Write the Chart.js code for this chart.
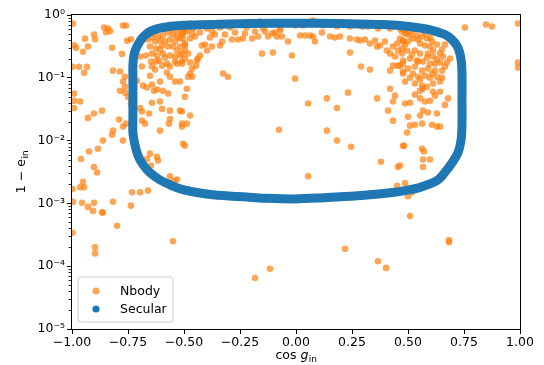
<!DOCTYPE html>
<html><head><meta charset="utf-8">
<script src="https://cdn.jsdelivr.net/npm/chart.js@4.4.1/dist/chart.umd.min.js"></script>
<style>html,body{margin:0;padding:0;background:#fff}#wrap{width:544px;height:365px}</style>
</head><body><div id="wrap"><canvas id="c" width="544" height="365"></canvas></div>
<script>
const seriesNames = ['Nbody', 'Secular'];
const xTicks = [-1, -0.75, -0.5, -0.25, 0, 0.25, 0.5, 0.75, 1];
const yTicks = [1e-5, 1e-4, 1e-3, 1e-2, 1e-1, 1];
const yTickLabels = ['10\u207B\u2075', '10\u207B\u2074', '10\u207B\u00B3', '10\u207B\u00B2', '10\u207B\u00B9', '10\u2070'];
const xTitle = ['cos ', 'g', 'in'];
const yTitle = ['1 \u2212 e', 'in'];

const nbodyX = [
 -0.996,-0.991,-0.982,-0.998,-0.991,-0.991,-0.991,-0.964,-0.942,-0.929,
 -0.951,-0.969,-0.946,-0.933,-0.902,-0.897,-0.857,-0.839,-0.830,-0.848,
 -0.821,-0.817,-0.777,-0.772,-0.759,-0.754,-0.737,-0.786,-0.763,-0.772,
 -0.763,-0.786,-0.763,-0.750,-0.737,-0.866,-0.929,-0.902,-0.790,-0.772,
 -0.759,-0.817,-0.821,-0.862,-0.884,-0.924,-0.960,-0.902,-0.772,-0.888,
 -0.696,-0.670,-0.688,-0.652,-0.643,-0.647,-0.625,-0.612,-0.598,-0.576,
 -0.563,-0.531,-0.509,-0.710,-0.683,-0.665,-0.643,-0.634,-0.621,-0.594,
 -0.571,-0.607,-0.643,-0.696,-0.688,-0.656,-0.598,-0.563,-0.518,-0.563,
 -0.688,-0.674,-0.607,-0.567,-0.509,-0.652,-0.665,-0.621,-0.616,-0.688,
 -0.647,-0.563,-0.540,-0.518,-0.625,-0.598,-0.571,-0.531,-0.496,-0.638,
 -0.616,-0.594,-0.571,-0.549,-0.527,-0.504,-0.629,-0.607,-0.585,-0.563,
 -0.540,-0.518,-0.643,-0.621,-0.594,-0.563,-0.540,-0.518,-0.652,-0.549,
 -0.473,-0.442,-0.326,-0.161,-0.040,-0.504,-0.460,-0.397,-0.339,-0.295,
 -0.219,-0.147,-0.071,-0.509,-0.487,-0.464,-0.375,-0.071,-0.504,-0.496,
 -0.473,-0.420,-0.406,-0.375,-0.397,-0.339,-0.330,-0.286,-0.259,-0.237,
 -0.196,-0.170,-0.125,-0.107,-0.085,-0.063,-0.036,-0.518,-0.496,-0.509,
 -0.482,-0.429,-0.438,-0.442,-0.496,-0.509,-0.152,-0.103,-0.018,-0.464,
 -0.473,-0.482,-0.464,-0.326,-0.304,-0.487,-0.496,-0.509,-0.473,-0.487,
 -0.509,-0.504,-0.496,-0.076,-0.004,
 0.076,-0.004,0.031,0.121,0.183,0.241,0.295,0.321,0.366,0.420,
 0.464,0.487,0.018,0.040,0.063,0.076,0.085,0.116,0.152,0.174,
 0.196,0.241,0.272,0.286,0.308,0.330,0.353,0.362,0.375,0.397,
 0.406,0.420,0.433,0.451,0.464,0.478,0.455,0.473,0.442,0.487,
 0.241,0.290,0.330,0.420,0.433,0.455,0.478,0.478,0.487,0.054,
 0.138,0.183,0.232,0.362,0.420,0.442,0.433,0.411,0.433,0.138,
 0.183,0.246,0.478,0.379,0.455,
 0.754,0.848,0.875,0.991,0.991,0.991,0.473,0.496,0.518,0.540,
 0.563,0.585,0.607,0.478,0.500,0.522,0.554,0.576,0.598,0.612,
 0.473,0.496,0.531,0.554,0.589,0.612,0.643,0.656,0.688,0.478,
 0.509,0.540,0.567,0.598,0.621,0.643,0.464,0.500,0.531,0.563,
 0.589,0.621,0.652,0.665,0.478,0.522,0.545,0.576,0.607,0.629,
 0.531,0.563,0.585,0.612,0.643,0.567,0.554,0.612,0.621,0.679,
 0.554,0.576,0.598,0.487,0.509,0.567,0.589,0.629,0.554,0.500,
 0.531,0.563,0.607,0.629,0.643,0.509,0.496,0.482,0.563,0.571,
 0.567,0.598,0.567,0.464,
 -0.951,-0.946,-0.964,-0.998,-0.996,-0.955,-0.929,-0.902,-0.906,-0.862,
 -0.866,-0.817,-0.799,-0.998,-0.897,-0.897,-0.737,-0.732,-0.696,-0.661,
 -0.563,-0.545,-0.531,-0.549,-0.116,-0.183,0.054,0.219,0.366,0.402,
 0.451,0.487,0.500,0.509,0.518,0.683,0.683,
 -0.661,-0.643,-0.621,-0.585,-0.554,-0.531,-0.496,-0.451,-0.429,-0.384,
 -0.362,-0.317,-0.272,-0.228,-0.183,-0.138,-0.094,-0.607,-0.585,-0.540,
 -0.473,-0.446,-0.629,-0.576,-0.607,
 0.487,0.509,0.545,0.576,0.598,0.629,0.652,0.665,0.518,0.545,
 0.585,0.629,0.674,0.509,0.554,0.598,0.652,0.531,0.643,0.665
];
const nbodyY = [
 0.73,0.33,0.30,0.15,0.056,0.043,0.033,0.042,0.42,0.315,
 0.26,0.15,0.12,0.15,0.49,0.41,0.63,0.61,0.55,0.53,
 0.30,0.13,0.24,0.68,0.68,0.39,0.41,0.126,0.104,0.087,
 0.072,0.062,0.058,0.050,0.039,0.030,0.023,0.027,0.0216,0.0167,
 0.0186,0.0144,0.0124,0.0100,0.0074,0.0067,0.0051,0.0038,0.0100,0.0031,
 0.218,0.226,0.151,0.108,0.151,0.181,0.181,0.188,0.156,0.168,
 0.151,0.168,0.181,0.090,0.075,0.070,0.078,0.062,0.065,0.062,
 0.056,0.042,0.040,0.033,0.029,0.027,0.032,0.030,0.030,0.022,
 0.0208,0.0186,0.0144,0.0186,0.0186,0.0062,0.0051,0.0055,0.0048,0.0044,
 0.0040,0.104,0.087,0.087,0.292,0.326,0.315,0.272,0.326,0.507,
 0.454,0.471,0.526,0.489,0.546,0.507,0.378,0.392,0.378,0.407,
 0.378,0.422,0.243,0.226,0.243,0.226,0.218,0.226,0.315,0.315,
 0.732,0.732,0.732,0.787,0.759,0.609,0.609,0.609,0.632,0.632,
 0.632,0.609,0.609,0.507,0.546,0.507,0.546,0.566,0.422,0.351,
 0.422,0.326,0.339,0.315,0.272,0.326,0.378,0.407,0.407,0.422,
 0.422,0.454,0.454,0.507,0.454,0.454,0.378,0.315,0.272,0.243,
 0.243,0.226,0.202,0.188,0.202,0.168,0.243,0.252,0.226,0.140,
 0.117,0.104,0.104,0.117,0.104,0.067,0.050,0.029,0.025,0.0186,
 0.0167,0.0089,0.0083,0.0149,0.097,
 0.817,0.680,0.680,0.680,0.656,0.656,0.656,0.656,0.609,0.609,
 0.609,0.566,0.471,0.471,0.471,0.454,0.378,0.526,0.454,0.438,
 0.454,0.422,0.407,0.392,0.407,0.351,0.392,0.315,0.326,0.378,
 0.272,0.243,0.315,0.351,0.422,0.378,0.272,0.243,0.218,0.507,
 0.252,0.151,0.135,0.130,0.156,0.156,0.168,0.126,0.087,0.039,
 0.047,0.033,0.058,0.047,0.067,0.052,0.042,0.030,0.0208,0.0144,
 0.0100,0.0080,0.0083,0.0046,0.0038,
 0.632,0.705,0.656,0.732,0.175,0.146,0.546,0.507,0.546,0.471,
 0.454,0.422,0.378,0.392,0.378,0.422,0.351,0.326,0.315,0.272,
 0.292,0.272,0.272,0.243,0.243,0.218,0.243,0.218,0.202,0.188,
 0.202,0.188,0.181,0.168,0.168,0.175,0.156,0.140,0.151,0.130,
 0.140,0.130,0.130,0.151,0.117,0.117,0.104,0.108,0.117,0.104,
 0.081,0.075,0.072,0.081,0.087,0.067,0.062,0.060,0.052,0.047,
 0.047,0.042,0.043,0.039,0.040,0.030,0.028,0.027,0.025,0.024,
 0.0179,0.0186,0.0179,0.0167,0.0167,0.0173,0.0134,0.0083,0.0074,0.0067,
 0.0050,0.0050,0.0038,0.0040,
 0.0022,0.0018,0.0018,0.0017,0.00106,0.00102,0.00088,0.00102,0.00076,0.00071,
 0.00072,0.00106,0.00044,0.00034,0.00020,0.00016,0.00092,0.0015,0.0015,0.0016,
 0.0027,0.0023,0.0024,0.00025,0.000091,0.000065,0.0027,0.00019,0.00012,0.000094,
 0.0019,0.0021,0.0013,0.00063,0.0015,0.00026,0.00024,
 0.407,0.438,0.566,0.587,0.587,0.454,0.587,0.454,0.526,0.438,
 0.489,0.489,0.526,0.507,0.546,0.546,0.526,0.282,0.210,0.181,
 0.175,0.156,0.135,0.121,0.087,
 0.339,0.471,0.407,0.526,0.438,0.339,0.282,0.339,0.235,0.181,
 0.210,0.195,0.175,0.100,0.094,0.100,0.100,0.054,0.060,0.037
];

const secularX = [
 -0.728,-0.728,-0.728,-0.723,-0.710,-0.688,-0.652,-0.594,-0.518,-0.384,
 -0.205,0.000,0.196,0.375,0.464,0.554,0.612,0.665,0.696,0.723,
 0.737,0.741,0.741,0.741,0.737,0.723,0.696,0.661,0.629,0.554,
 0.487,0.420,0.272,0.121,-0.004,-0.138,-0.219,-0.371,-0.473,-0.518,
 -0.563,-0.607,-0.652,-0.683,-0.705,-0.719,-0.728,-0.728,-0.728
];
const secularY = [
 0.045,0.094,0.162,0.235,0.315,0.422,0.546,0.632,0.680,0.705,
 0.732,0.740,0.732,0.705,0.680,0.620,0.566,0.489,0.407,0.303,
 0.195,0.112,0.045,0.0179,0.0103,0.0064,0.0044,0.0030,0.0023,0.0018,
 0.0016,0.00148,0.00132,0.00123,0.00118,0.00121,0.00126,0.00137,0.00156,0.00171,
 0.00198,0.00236,0.00308,0.00413,0.00574,0.0086,0.0134,0.0259,0.045
];

const FONT = 'DejaVu Sans';
const fmtX = v => (v < 0 ? '\u2212' : '') + Math.abs(v).toFixed(2);

const framePlugin = {
  id: 'frame',
  afterDatasetsDraw(chart) {
    const ctx = chart.ctx, a = chart.chartArea, ys = chart.scales.y;
    ctx.save();
    ctx.strokeStyle = '#000';
    ctx.lineWidth = 1;
    const l = Math.round(a.left) - 0.5, r = Math.round(a.right) + 0.5;
    const t = Math.round(a.top) - 0.5, b = Math.round(a.bottom) + 0.5;
    ctx.strokeRect(l, t, r - l, b - t);
    ctx.lineWidth = 0.8;
    for (let e = -5; e < 0; e++) {
      for (let k = 2; k <= 9; k++) {
        const py = Math.round(ys.getPixelForValue(k * Math.pow(10, e))) + 0.5;
        ctx.beginPath();
        ctx.moveTo(l, py);
        ctx.lineTo(l - 3, py);
        ctx.stroke();
      }
    }
    ctx.restore();
  },
  afterDraw(chart) {
    const ctx = chart.ctx, a = chart.chartArea;
    ctx.save();
    const lx = 78, ly = 277, lw = 95, lh = 45, rr = 3;
    ctx.beginPath();
    ctx.moveTo(lx + rr, ly);
    ctx.arcTo(lx + lw, ly, lx + lw, ly + lh, rr);
    ctx.arcTo(lx + lw, ly + lh, lx, ly + lh, rr);
    ctx.arcTo(lx, ly + lh, lx, ly, rr);
    ctx.arcTo(lx, ly, lx + lw, ly, rr);
    ctx.closePath();
    ctx.fillStyle = 'rgba(255,255,255,0.8)';
    ctx.fill();
    ctx.strokeStyle = '#cccccc';
    ctx.lineWidth = 1;
    ctx.stroke();
    const ds = chart.data.datasets;
    const rows = [291, 309];
    ds.forEach((d, i) => {
      ctx.beginPath();
      ctx.arc(96, rows[i], 3.6, 0, Math.PI * 2);
      ctx.fillStyle = d.legendColor;
      ctx.fill();
      ctx.fillStyle = '#000';
      ctx.font = '12.5px "' + FONT + '"';
      ctx.textBaseline = 'middle';
      ctx.textAlign = 'left';
      ctx.fillText(d.label, 120, rows[i] + 1);
    });
    const big = '12.5px "' + FONT + '"', it = 'italic 12.5px "' + FONT + '"', sub = '9px "' + FONT + '"';
    ctx.textBaseline = 'alphabetic';
    ctx.font = big; const w1 = ctx.measureText(xTitle[0]).width;
    ctx.font = it; const w2 = ctx.measureText(xTitle[1]).width;
    ctx.font = sub; const w3 = ctx.measureText(xTitle[2]).width;
    const cx = (a.left + a.right) / 2;
    const x0 = cx - (w1 + w2 + w3) / 2;
    const by = 359;
    ctx.font = big; ctx.fillText(xTitle[0], x0, by);
    ctx.font = it; ctx.fillText(xTitle[1], x0 + w1, by);
    ctx.font = sub; ctx.fillText(xTitle[2], x0 + w1 + w2 + 0.5, by + 3);
    ctx.translate(25, (a.top + a.bottom) / 2);
    ctx.rotate(-Math.PI / 2);
    ctx.font = big; const v1 = ctx.measureText(yTitle[0]).width;
    ctx.font = sub; const v2 = ctx.measureText(yTitle[1]).width;
    const s0 = -(v1 + v2) / 2;
    ctx.font = big; ctx.fillText(yTitle[0], s0, 0);
    ctx.font = sub; ctx.fillText(yTitle[1], s0 + v1 + 0.5, 3);
    ctx.restore();
  }
};

new Chart(document.getElementById('c'), {
  type: 'scatter',
  data: {
    datasets: [
      {
        label: seriesNames[0],
        data: nbodyX.map((x, i) => ({ x: x, y: nbodyY[i] })),
        backgroundColor: 'rgba(255,127,14,0.7)',
        legendColor: 'rgba(255,127,14,0.7)',
        borderWidth: 0,
        pointRadius: 3.3,
        pointHoverRadius: 3.3,
        order: 1,
        clip: 0
      },
      {
        label: seriesNames[1],
        data: secularX.map((x, i) => ({ x: x, y: secularY[i] })),
        showLine: true,
        borderColor: '#1f77b4',
        backgroundColor: '#1f77b4',
        legendColor: '#1f77b4',
        borderWidth: 9,
        pointRadius: 0,
        pointHoverRadius: 0,
        tension: 0.35,
        borderJoinStyle: 'round',
        borderCapStyle: 'round',
        order: 0,
        clip: 0
      }
    ]
  },
  options: {
    responsive: false,
    animation: false,
    devicePixelRatio: 1,
    events: [],
    layout: { padding: { top: 15, right: 24, left: 0, bottom: 0 } },
    plugins: { legend: { display: false }, tooltip: { enabled: false } },
    scales: {
      x: {
        type: 'linear', min: -1, max: 1,
        afterBuildTicks: s => { s.ticks = xTicks.map(v => ({ value: v })); },
        afterFit: s => { s.height = 36; },
        ticks: { callback: v => fmtX(v), color: '#000', font: { family: FONT, size: 12.5 }, padding: 1, maxRotation: 0, autoSkip: false },
        grid: { display: true, drawOnChartArea: false, drawTicks: true, tickLength: 5, color: '#000', lineWidth: 1 },
        border: { display: false }
      },
      y: {
        type: 'logarithmic', min: 1e-5, max: 1,
        afterBuildTicks: s => { s.ticks = yTicks.map(v => ({ value: v })); },
        afterFit: s => { s.width = 72; },
        ticks: { callback: (v, i) => yTickLabels[i], color: '#000', font: { family: FONT, size: 12.5 }, padding: 2, autoSkip: false },
        grid: { display: true, drawOnChartArea: false, drawTicks: true, tickLength: 5, color: '#000', lineWidth: 1 },
        border: { display: false }
      }
    }
  },
  plugins: [framePlugin]
});
</script>
</body></html>
